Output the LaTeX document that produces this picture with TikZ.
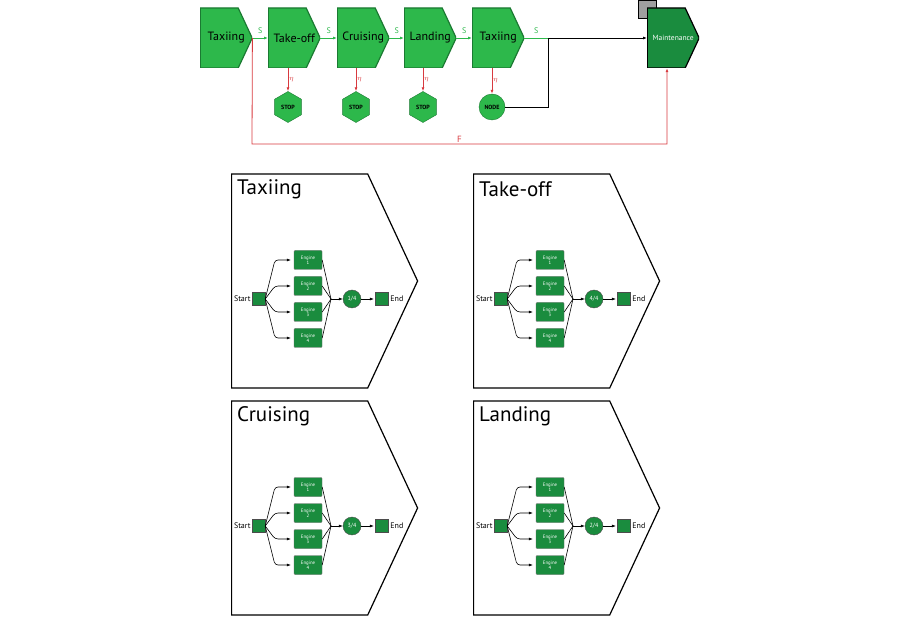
\documentclass[tikz,border=0pt]{standalone}
\usepackage{fontspec}
\setsansfont{PT Sans}
\usepackage{xcolor}
\usetikzlibrary{shapes.geometric,shapes.symbols,arrows.meta,positioning,calc}

\definecolor{lightgrn}{HTML}{2DB84B}
\definecolor{darkgrn}{HTML}{1A8C3E}
\definecolor{edgegrn}{HTML}{1B7A32}
\definecolor{redline}{HTML}{D83A3F}

\begin{document}
\begin{tikzpicture}[
  x=1pt, y=-1pt,
  chev/.style n args={2}{rectangle, minimum width=52pt, minimum height=60pt, inner sep=0pt,
                anchor=west,
                path picture={\filldraw[fill=#1, draw=#2, line width=1.2pt]
                  (path picture bounding box.north west)
                  -- ([xshift=-14pt]path picture bounding box.north east)
                  -- (path picture bounding box.east)
                  -- ([xshift=-14pt]path picture bounding box.south east)
                  -- (path picture bounding box.south west) -- cycle;}},
  phase/.style={chev={lightgrn}{edgegrn}, font=\sffamily\fontsize{12}{12}\selectfont},
  mnt/.style={chev={darkgrn}{black}, text=white,
              font=\sffamily\fontsize{7.5}{8}\selectfont},
  stopx/.style={regular polygon, regular polygon sides=6, shape border rotate=30,
                minimum size=31pt, inner sep=0pt, draw=edgegrn, fill=lightgrn,
                font=\sffamily\bfseries\fontsize{6}{6}\selectfont},
  joint/.style={circle, minimum size=26pt, inner sep=0pt, draw=edgegrn, fill=lightgrn,
                font=\sffamily\bfseries\fontsize{6}{6}\selectfont},
  panel/.style={signal, signal to=east, signal pointer angle=130, draw, line width=1.2pt,
                fill=white, minimum width=186pt, minimum height=214pt, inner sep=0pt,
                anchor=west},
  sq/.style={draw=black!70, fill=darkgrn, minimum size=13pt, inner sep=0pt},
  eng/.style={draw=black!60, fill=darkgrn, rounded corners=1pt, minimum width=28pt,
              minimum height=19pt, inner sep=0pt, align=center, text=white,
              font=\sffamily\fontsize{4.8}{5.2}\selectfont},
  vote/.style={circle, draw=black!70, fill=darkgrn, minimum size=18pt, inner sep=0pt,
               text=white, font=\sffamily\fontsize{6}{6}\selectfont},
  lbl/.style={font=\sffamily\fontsize{8}{8}\selectfont, inner sep=1pt},
  ar/.style={-{Latex[length=4pt,width=3pt]}, line width=0.6pt}
]
  \useasboundingbox (0,0) rectangle (900,620);

  % top row
  \node[phase] (t1) at (200,38) {Taxiing};
  \node[phase] (t2) at (268,38) {Take-off};
  \node[phase] (t3) at (337,38) {Cruising};
  \node[phase] (t4) at (404,38) {Landing};
  \node[phase] (t5) at (472,38) {Taxiing};
  \fill[gray!75, draw=black, line width=0.6pt] (638,0) rectangle (656,18);
  \node[mnt] (mt) at (647,38) {Maintenance};

  \node[stopx] (s2) at (288,107) {STOP};
  \node[stopx] (s3) at (356,107) {STOP};
  \node[stopx] (s4) at (423,107) {STOP};
  \node[joint] (nd) at (492,107) {NODE};

  \foreach \a/\b in {t1/t2, t2/t3, t3/t4, t4/t5}
    \draw[ar, lightgrn, line width=0.8pt] (\a.east) -- (\b.west)
      node[midway, above, lbl, text=lightgrn, yshift=3pt] {S};
  \coordinate (jn) at (548,38);
  \draw[lightgrn, line width=0.8pt] (t5.east) -- (jn)
    node[midway, above, lbl, yshift=3pt] {S};
  \draw[ar, line width=0.8pt] (nd.east) -| (jn) -- (mt.west);

  \foreach \a/\b in {t2/s2, t3/s3, t4/s4, t5/nd}
    \draw[ar, redline, line width=0.8pt] (\b.north |- \a.south) -- (\b.north)
      node[midway, right, lbl, text=redline, font=\fontsize{7}{7}\selectfont] {$\eta$};

  \coordinate (fl) at (252,144);
  \coordinate (fm) at (667,144);
  \draw[ar, redline, line width=0.8pt] (t1.east) -- (fl) -- (fm)
    node[midway, above, lbl, text=redline, font=\sffamily\fontsize{9}{9}\selectfont] {F}
    -- (fm |- mt.south);

  % phase panels
  \foreach \px/\py/\ph/\rt/\k in {231/174/Taxiing/1\slash 4/a, 473/174/Take-off/4\slash 4/b,
                                  231/401/Cruising/3\slash 4/c, 473/401/Landing/2\slash 4/d} {
    \begin{scope}[shift={(\px,\py)}]
      \node[panel] (p\k) at (0,107) {};
      \node[anchor=west, inner sep=0pt, font=\sffamily\fontsize{21}{21}\selectfont]
        (h\k) at (6,15) {\ph};
      \node[sq] (st\k) at (27.5,125) {};
      \node[lbl, left=0pt of st\k] (sl\k) {Start};
      \foreach \j/\ey in {1/86, 2/112, 3/138, 4/164} {
        \node[eng] (en\k\j) at (77,\ey) {Engine\\\j};
        \draw[ar, rounded corners=3pt, shorten >=3pt] (st\k.east) -- (44,\ey) -- (en\k\j.west);
      }
      \coordinate (mg\k) at (100,125);
      \foreach \j in {1,...,4}
        \draw[line width=0.6pt] (en\k\j.east) -- (mg\k);
      \node[vote] (vt\k) at (121,125) {\rt};
      \draw[ar] (mg\k) -- (vt\k.west);
      \node[sq] (ed\k) at (150.5,125) {};
      \draw[ar, shorten >=1pt] (vt\k.east) -- (ed\k.west);
      \node[lbl, right=1pt of ed\k] (el\k) {End};
    \end{scope}
  }
\end{tikzpicture}
\end{document}
